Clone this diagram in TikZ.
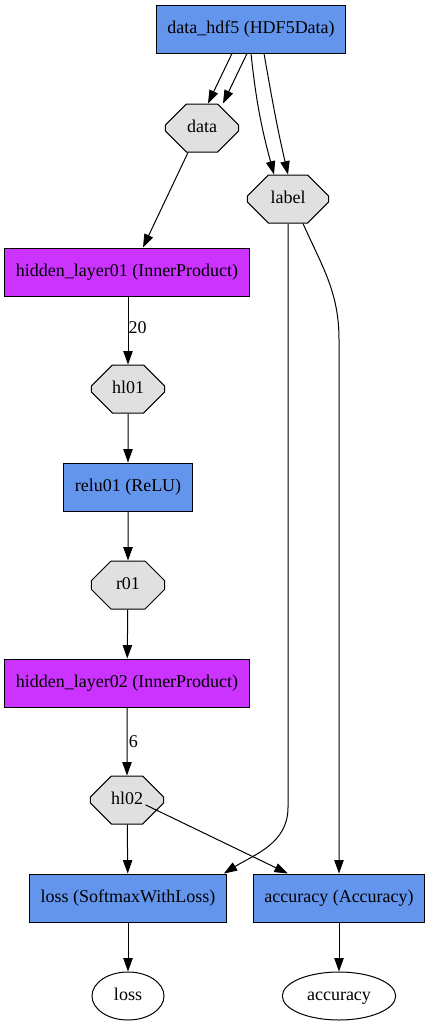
\documentclass[tikz,border=0pt]{standalone}
\usepackage{fontspec}
\setmainfont{Liberation Serif}
\usepackage{tikz}
\usetikzlibrary{calc,arrows.meta,shapes.misc,shapes.geometric}
\definecolor{layc}{HTML}{6495ED}
\definecolor{ipc}{HTML}{CC33FF}
\definecolor{blobc}{HTML}{E0E0E0}
\tikzset{
  txt/.style={font=\fontsize{13.5pt}{16pt}\selectfont,text height=9pt,text depth=2.5pt},
  ar/.style={-{Triangle[length=10pt,width=7pt]},line width=0.75pt,black},
  lyr/.style={txt,rectangle,draw=black,line width=0.75pt,fill=layc,minimum height=36pt,inner xsep=8.25pt},
  ipl/.style={lyr,fill=ipc},
  blob/.style={txt,chamfered rectangle,chamfered rectangle xsep=15pt,chamfered rectangle ysep=10pt,draw=black,line width=0.75pt,fill=blobc,minimum width=55pt,minimum height=36pt,inner sep=0pt},
  outb/.style={txt,ellipse,draw=black,line width=0.75pt,minimum height=36pt,inner sep=0pt},
  elab/.style={right,inner sep=0pt,font=\fontsize{13.5pt}{16pt}\selectfont}
}
\begin{document}
\begin{tikzpicture}[x=0.75pt,y=0.75pt]
\useasboundingbox (0,0) rectangle (430,-1025);
% layers and blobs
\node[lyr] (datahdf5) at (251,-29) {data\_hdf5 (HDF5Data)};
\node[blob] (data) at (202,-128) {data};
\node[blob,minimum width=61pt,chamfered rectangle xsep=10.5pt] (label) at (288,-199) {label};
\node[ipl] (hidden01) at (127,-272) {hidden\_layer01 (InnerProduct)};
\node[blob] (hl01) at (128,-389) {hl01};
\node[lyr] (relu01) at (128,-487) {relu01 (ReLU)};
\node[blob] (r01) at (128,-585) {r01};
\node[ipl] (hidden02) at (127,-683) {hidden\_layer02 (InnerProduct)};
\node[blob] (hl02) at (127,-800) {hl02};
\node[lyr] (loss) at (128,-898) {loss (SoftmaxWithLoss)};
\node[lyr] (accuracy) at (339,-898) {accuracy (Accuracy)};
\node[outb,minimum width=54pt] (lossout) at (128,-996) {loss};
\node[outb,minimum width=85pt] (accout) at (339,-996) {accuracy};
% edges
\draw[ar] ($(datahdf5.south)+(-19,0)$) -- ($(data.north)+(6,0)$);
\draw[ar] ($(datahdf5.south)+(-4,0)$) -- ($(data.north)+(21,0)$);
\draw[ar] ($(datahdf5.south)+(0,0)$) to[out=-84,in=105] ($(label.north)+(-14,0)$);
\draw[ar] ($(datahdf5.south)+(13,0)$) to[out=-80,in=103] ($(label.north)+(0,0)$);
\draw[ar] ($(data.south)+(-14,0)$) -- ($(hidden01.north)+(16,0)$);
\draw[ar] (hidden01.south) -- (hl01.north |- hidden01.south) -- (hl01.north) node[elab,pos=0.45]{20};
\draw[ar] (hl01) -- (relu01);
\draw[ar] (relu01) -- (r01);
\draw[ar] (r01) -- (hidden02);
\draw[ar] (hidden02) -- (hl02) node[elab,midway,xshift=1pt]{6};
\draw[ar] (hl02) -- (loss);
\draw[ar] ($(hl02.south east)+(-8,9)$) -- ($(accuracy.north west)+(35,0)$);
\draw[ar] (label.south) -- ++(0,-584) to[out=-90,in=32] ($(loss.north east)+(-3,0)$);
\draw[ar] ($(label.south)+(15,0)$) to[out=-66,in=90] ($(accuracy.north)+(0,534)$) -- (accuracy.north);
\draw[ar] (loss) -- (lossout);
\draw[ar] (accuracy) -- (accout);
\end{tikzpicture}
\end{document}
